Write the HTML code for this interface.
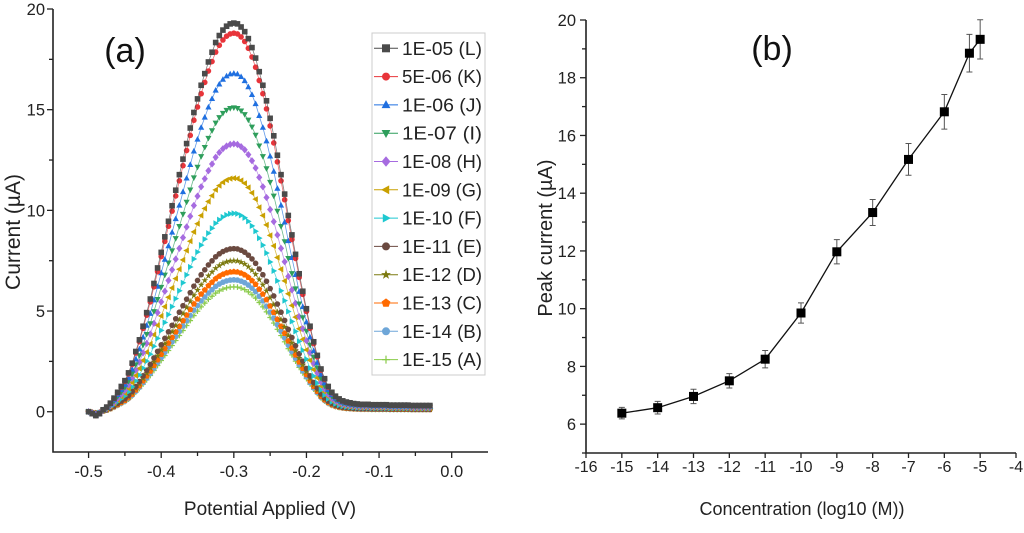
<!DOCTYPE html>
<html><head><meta charset="utf-8"><style>
html,body{margin:0;padding:0;background:#fff;}
svg{display:block;font-family:"Liberation Sans",Arial,sans-serif;}
</style></head><body>
<svg id="fig" width="1024" height="533" viewBox="0 0 1024 533">
<g id="pa"></g>
<g id="pb"></g>
</svg>
<script>
// ---------- Panel (a) data ----------
const potentials = []; // V, -0.500 to -0.030 step 0.005
for (let i = 0; i <= 94; i++) potentials.push(-0.5 + i * 0.005);
const peakShape = [0.00,-0.005,-0.01,-0.005,0.005,0.012,0.022,0.035,0.05,0.065,0.08,0.10,0.125,0.155,0.185,0.22,0.255,0.29,0.33,0.37,0.41,0.45,0.49,0.53,0.57,0.61,0.65,0.69,0.73,0.77,0.805,0.84,0.87,0.90,0.925,0.95,0.968,0.982,0.992,0.998,1.0,0.998,0.99,0.978,0.96,0.937,0.91,0.875,0.84,0.80,0.755,0.71,0.66,0.61,0.56,0.505,0.455,0.405,0.355,0.31,0.265,0.22,0.18,0.145,0.11,0.085,0.065,0.05,0.04,0.033,0.028,0.025,0.023,0.021,0.02,0.019,0.019,0.019,0.018,0.018,0.018,0.018,0.018,0.017,0.017,0.017,0.017,0.017,0.017,0.016,0.016,0.016,0.016,0.016,0.016];
const seriesLabels = ["1E-05 (L)","5E-06 (K)","1E-06 (J)","1E-07 (I)","1E-08 (H)","1E-09 (G)","1E-10 (F)","1E-11 (E)","1E-12 (D)","1E-13 (C)","1E-14 (B)","1E-15 (A)"];
const seriesPeaks = [19.3,18.8,16.8,15.1,13.3,11.6,9.85,8.1,7.5,6.95,6.55,6.2];
const aXTicks = [-0.5,-0.4,-0.3,-0.2,-0.1,0.0];
const aXTickLabels = ["-0.5","-0.4","-0.3","-0.2","-0.1","0.0"];
const aYTicks = [0,5,10,15,20];
// ---------- Panel (b) data ----------
const concLog = [-15,-14,-13,-12,-11,-10,-9,-8,-7,-6,-5.3,-5];
const peakCurrent = [6.38,6.57,6.96,7.5,8.25,9.85,11.97,13.33,15.17,16.82,18.85,19.33];
const peakError = [0.2,0.22,0.25,0.25,0.3,0.35,0.42,0.45,0.55,0.6,0.65,0.68];
const bXTicks = [-16,-15,-14,-13,-12,-11,-10,-9,-8,-7,-6,-5,-4];
const bYTicks = [6,8,10,12,14,16,18,20];

const colors = ["#4a4a4a","#e8343a","#1f6fe0","#2e9e5b","#a66be0","#c9a000","#1ec8d0","#6b4a40","#7c7a10","#ff6a00","#6ea6d8","#8acb4a"];
const shapes = ["square","circle","tri-up","tri-down","diamond","tri-left","tri-right","circle","star","pentagon","circle","plus"];
const NS = "http://www.w3.org/2000/svg";
function mk(tag, attrs, parent){ const e=document.createElementNS(NS,tag); for(const k in attrs) e.setAttribute(k,attrs[k]); parent.appendChild(e); return e; }

function marker(parent, shape, cx, cy, r, col){
  let e;
  const poly = pts => pts.map(p=>(cx+p[0]*r).toFixed(2)+","+(cy+p[1]*r).toFixed(2)).join(" ");
  if(shape==="square") e=mk("rect",{x:cx-r,y:cy-r,width:2*r,height:2*r,fill:col},parent);
  else if(shape==="circle") e=mk("circle",{cx:cx,cy:cy,r:r,fill:col},parent);
  else if(shape==="tri-up") e=mk("polygon",{points:poly([[0,-1.2],[1.1,0.8],[-1.1,0.8]]),fill:col},parent);
  else if(shape==="tri-down") e=mk("polygon",{points:poly([[0,1.2],[1.1,-0.8],[-1.1,-0.8]]),fill:col},parent);
  else if(shape==="tri-left") e=mk("polygon",{points:poly([[-1.2,0],[0.8,-1.1],[0.8,1.1]]),fill:col},parent);
  else if(shape==="tri-right") e=mk("polygon",{points:poly([[1.2,0],[-0.8,-1.1],[-0.8,1.1]]),fill:col},parent);
  else if(shape==="diamond") e=mk("polygon",{points:poly([[0,-1.3],[1.1,0],[0,1.3],[-1.1,0]]),fill:col},parent);
  else if(shape==="pentagon"){ const p=[]; for(let i=0;i<5;i++){const a=-Math.PI/2+i*2*Math.PI/5; p.push([Math.cos(a)*1.15,Math.sin(a)*1.15]);} e=mk("polygon",{points:poly(p),fill:col},parent); }
  else if(shape==="star"){ const p=[]; for(let i=0;i<10;i++){const a=-Math.PI/2+i*Math.PI/5; const rr=i%2?0.5:1.3; p.push([Math.cos(a)*rr,Math.sin(a)*rr]);} e=mk("polygon",{points:poly(p),fill:col},parent); }
  else if(shape==="plus"){ e=mk("path",{d:`M${cx-r} ${cy}H${cx+r}M${cx} ${cy-r}V${cy+r}`,stroke:col,"stroke-width":1.2,fill:"none"},parent); }
  
  
  return e;
}

// ---------- Panel (a) ----------
(function(){
  const g=document.getElementById("pa");
  const L=53,R=488,T=9,B=452;
  const xmin=-0.549,xmax=0.05,ymin=-2,ymax=20;
  const sx=v=>L+(v-xmin)/(xmax-xmin)*(R-L);
  const sy=v=>B-(v-ymin)/(ymax-ymin)*(B-T);
  const ax=mk("path",{d:`M${L} ${T}V${B}H${R}`,stroke:"#222","stroke-width":1.6,fill:"none"},g);
   
  for(let v=-0.5;v<=0.0001;v+=0.05){ mk("line",{x1:sx(v),x2:sx(v),y1:B,y2:B+(Math.abs(Math.round(v*10)-v*10)<0.01?6:4),stroke:"#222","stroke-width":1.3},g); }
  aXTicks.forEach((v,i)=>{ const t=mk("text",{x:sx(v),y:477,"text-anchor":"middle","font-size":16.5,fill:"#222"},g); t.textContent=aXTickLabels[i];
      });
  for(let v=0;v<=20;v+=2.5){ mk("line",{x1:L,x2:L-(v%5===0?6:4),y1:sy(v),y2:sy(v),stroke:"#222","stroke-width":1.3},g); }
  aYTicks.forEach(v=>{ const t=mk("text",{x:45,y:sy(v)+6,"text-anchor":"end","font-size":16.5,fill:"#222"},g); t.textContent=String(v);
      });
  const yt=mk("text",{x:0,y:0,transform:"translate(20,232) rotate(-90)","text-anchor":"middle","font-size":21,fill:"#222"},g); yt.textContent="Current (µA)";
   
  const xt=mk("text",{x:270,y:515,"text-anchor":"middle","font-size":19,fill:"#222"},g); xt.textContent="Potential Applied (V)";
   
  const pl=mk("text",{x:125,y:62,"text-anchor":"middle","font-size":34,fill:"#111"},g); pl.textContent="(a)";
   
  for(let s=seriesPeaks.length-1;s>=0;s--){
    const sg=mk("g",{},g);
    
    
    const pts=potentials.map((x,i)=>[sx(x),sy(seriesPeaks[s]*peakShape[i])]);
    mk("polyline",{points:pts.map(p=>p[0].toFixed(1)+","+p[1].toFixed(1)).join(" "),stroke:colors[s],"stroke-width":0.8,fill:"none",opacity:0.7},sg);
    pts.forEach(p=>marker(sg,shapes[s],p[0],p[1],2.8,colors[s]));
  }
  const lg=mk("g",{},g);  
  mk("rect",{x:372,y:33,width:113,height:342,fill:"#fff",stroke:"#ccc","stroke-width":1},lg);
  seriesLabels.forEach((lab,i)=>{
    const y=48.3+i*28.3;
    const eg=mk("g",{},lg);  
    mk("line",{x1:374,x2:398,y1:y,y2:y,stroke:colors[i],"stroke-width":1},eg);
    marker(eg,shapes[i],386,y,4,colors[i]);
    const t=mk("text",{x:402,y:y+6.5,"font-size":18,fill:"#222",textLength:80,lengthAdjust:"spacingAndGlyphs"},eg); t.textContent=lab;
  });
})();

// ---------- Panel (b) ----------
(function(){
  const g=document.getElementById("pb");
  const L=586,R=1016,T=20,B=453;
  const xmin=-16,xmax=-4,ymin=5,ymax=20;
  const sx=v=>L+(v-xmin)/(xmax-xmin)*(R-L);
  const sy=v=>B-(v-ymin)/(ymax-ymin)*(B-T);
  const ax=mk("path",{d:`M${L} ${T}V${B}H${R}`,stroke:"#222","stroke-width":1.6,fill:"none"},g);
   
  bXTicks.forEach(v=>{ mk("line",{x1:sx(v),x2:sx(v),y1:B,y2:B+5,stroke:"#222","stroke-width":1.3},g);
    const t=mk("text",{x:sx(v),y:472,"text-anchor":"middle","font-size":16,fill:"#222"},g); t.textContent=String(v);
      });
  for(let v=5;v<=20;v+=1){ mk("line",{x1:L,x2:L-(v%2===0?6:4),y1:sy(v),y2:sy(v),stroke:"#222","stroke-width":1.3},g); }
  bYTicks.forEach(v=>{ const t=mk("text",{x:L-10,y:sy(v)+6,"text-anchor":"end","font-size":16.5,fill:"#222"},g); t.textContent=String(v);
      });
  const yt=mk("text",{x:0,y:0,transform:"translate(552,238) rotate(-90)","text-anchor":"middle","font-size":20,fill:"#222"},g); yt.textContent="Peak current (µA)";
   
  const xt=mk("text",{x:802,y:515,"text-anchor":"middle","font-size":18,fill:"#222"},g); xt.textContent="Concentration (log10 (M))";
   
  const pl=mk("text",{x:772,y:60,"text-anchor":"middle","font-size":34,fill:"#111"},g); pl.textContent="(b)";
   
  const ln=mk("polyline",{points:concLog.map((x,i)=>sx(x).toFixed(1)+","+sy(peakCurrent[i]).toFixed(1)).join(" "),stroke:"#111","stroke-width":1.3,fill:"none"},g);
   
  concLog.forEach((x,i)=>{
    const cx=sx(x), y1=sy(peakCurrent[i]+peakError[i]), y2=sy(peakCurrent[i]-peakError[i]);
    const eb=mk("path",{d:`M${cx} ${y1}V${y2}M${cx-3} ${y1}H${cx+3}M${cx-3} ${y2}H${cx+3}`,stroke:"#555","stroke-width":1},g);
     
    const m=mk("rect",{x:cx-4.5,y:sy(peakCurrent[i])-4.5,width:9,height:9,fill:"#000"},g);
     
  });
})();
</script>
</body></html>
